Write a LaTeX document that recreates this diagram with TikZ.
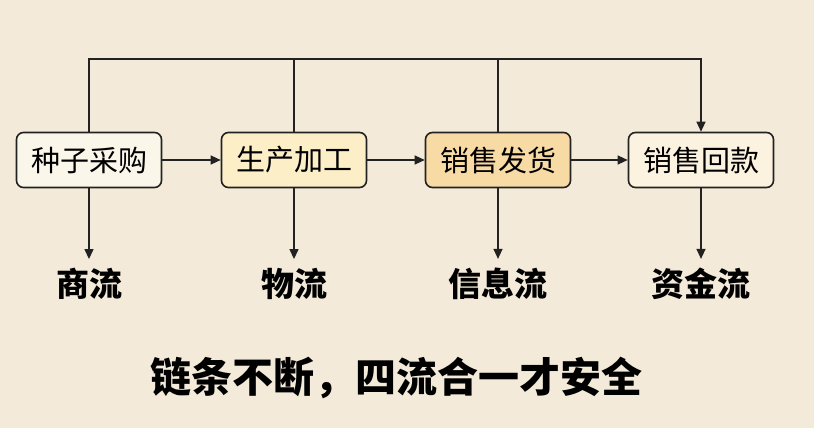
\documentclass[tikz,border=0pt]{standalone}
\usepackage{fontspec}
\newfontfamily\cjk{Noto Sans CJK SC}
\usetikzlibrary{arrows.meta}
\definecolor{paper}{HTML}{F3EAD9}
\definecolor{boxA}{HTML}{FBF6EA}
\definecolor{boxB}{HTML}{FCEEC6}
\definecolor{boxC}{HTML}{F8DAA4}
\definecolor{boxD}{HTML}{FBF2DF}
\definecolor{ink}{HTML}{222222}
\tikzset{
  stage/.style={draw=ink,line width=1.6pt,rounded corners=7pt,
    minimum width=145pt,minimum height=55pt,
    font=\cjk\fontsize{29}{32}\selectfont},
  flow/.style={inner sep=0pt,font=\cjk\bfseries\fontsize{33}{36}\selectfont},
  link/.style={line width=1.3pt,draw=ink,-{Triangle[length=10pt,width=9pt]}},
  wire/.style={line width=1.3pt,draw=ink}
}
\begin{document}
\begin{tikzpicture}[x=1pt,y=-1pt]
    \fill[paper] (0,0) rectangle (814,428);
    \useasboundingbox (0,0) rectangle (814,428);

    % the four steps of the chain
    \foreach \n\x\t\c in {
        buy/89/种子采购/boxA,
        make/294/生产加工/boxB,
        ship/498/销售发货/boxC,
        pay/701/销售回款/boxD}{
      \node[stage,fill=\c] (\n) at (\x,160) {\t};
    }

    % the four flows
    \foreach \n\x\t in {
        shang/89/商流,
        wu/294/物流,
        xin/498/信息流,
        zi/701/资金流}{
      \node[flow] (\n) at (\x,284) {\t};
    }

    \draw[link] (buy) -- (make);
    \draw[link] (make) -- (ship);
    \draw[link] (ship) -- (pay);

    \coordinate (rail) at (0,59);
    \draw[link] (buy.north) -- (buy.north |- rail) -| (pay.north);
    \draw[wire] (make.north) -- (make.north |- rail);
    \draw[wire] (ship.north) -- (ship.north |- rail);

    \draw[link] (buy.south) -- ([yshift=9pt]shang.north);
    \draw[link] (make.south) -- ([yshift=9pt]wu.north);
    \draw[link] (ship.south) -- ([yshift=9pt]xin.north);
    \draw[link] (pay.south) -- ([yshift=9pt]zi.north);

    \node[flow,font=\cjk\bfseries\fontsize{41}{44}\selectfont] (motto) at (396,378) {链条不断，四流合一才安全};
  \end{tikzpicture}
\end{document}
